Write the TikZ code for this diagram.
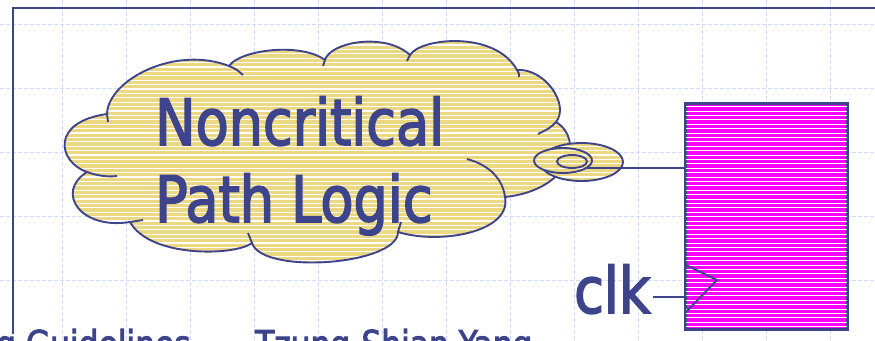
\documentclass[tikz,border=0pt]{standalone}
\usepackage{fontspec}
\newfontfamily\tfont{DejaVu Sans}[FakeStretch=0.845,FakeBold=2.5]
\definecolor{navy}{RGB}{62,68,140}
\definecolor{cloudyel}{RGB}{236,216,130}
\definecolor{gridblue}{RGB}{206,219,250}
\definecolor{regmag}{RGB}{255,0,255}
\tikzset{
  gridline/.style={gridblue,line width=1pt,dash pattern=on 4pt off 2pt},
  frameline/.style={navy,line width=1.9pt},
  outl/.style={navy,line width=1.9pt},
  stripes/.style={path picture={\foreach \i in {0,...,78}{\draw[white,line width=1.1pt] (0,{\i*4.4+1}) -- (875,{\i*4.4+1});}}},
  bigtext/.style={inner sep=0pt,anchor=base west,text=navy,font=\tfont\fontsize{64}{64}\selectfont},
  foottext/.style={inner sep=0pt,anchor=base west,text=navy,font=\tfont\fontsize{37}{37}\selectfont},
  regbox/.style={draw=navy,line width=1.9pt,fill=regmag,minimum width=161pt,minimum height=225pt,inner sep=0pt}
}
\def\cloudpath{(107,114) .. controls (108,80) and (175,45) .. (229,66)
 .. controls (240,50) and (300,42) .. (325,60)
 .. controls (330,42) and (385,32) .. (410,55)
 .. controls (420,38) and (495,30) .. (517,70)
 .. controls (545,68) and (570,105) .. (556,122)
 .. controls (585,140) and (570,190) .. (505,197)
 .. controls (512,232) and (440,245) .. (398,232)
 .. controls (398,265) and (262,275) .. (252,243)
 .. controls (235,256) and (150,258) .. (130,222)
 .. controls (80,230) and (55,192) .. (87,172)
 .. controls (58,162) and (50,122) .. (107,114) -- cycle}
\begin{document}
\begin{tikzpicture}[x=1pt,y=-1pt]
\useasboundingbox (0,0) rectangle (875,340);
\clip (0,0) rectangle (875,340);
\fill[white] (0,0) rectangle (875,340);
% grid
\foreach \x in {62,126,...,830} \draw[gridline] (\x,0) -- (\x,340);
\foreach \y in {24,88,152,216,280} \draw[gridline] (0,\y) -- (875,\y);
% frame
\draw[frameline] (13,334) -- (13,8) -- (880,8);
% cloud
\path[fill=cloudyel,stripes] \cloudpath;
\draw[outl] \cloudpath;
\draw[outl] (107,114) -- (108,122);
\draw[outl] (229,66) .. controls (236,69) .. (243,75);
\draw[outl] (325,60) -- (323,66);
\draw[outl] (410,55) -- (407,61);
\draw[outl] (517,70) .. controls (519,73) .. (519,77);
\draw[outl] (556,122) .. controls (550,128) .. (538,134);
\draw[outl] (505,197) .. controls (503,180) and (490,165) .. (467,159);
\draw[outl] (398,232) -- (401,222);
\draw[outl] (252,243) .. controls (250,238) .. (248,233);
\draw[outl] (130,222) .. controls (137,221) .. (143,220);
\draw[outl] (87,172) .. controls (98,176) and (108,177) .. (117,176);
% text
\node[bigtext] (t1) at (155,145) {Noncritical};
\node[bigtext] (t2) at (155,222) {Path Logic};
% thought bubbles
\path[fill=cloudyel,stripes] (581.5,162) ellipse [x radius=41.5,y radius=19];
\draw[outl] (581.5,162) ellipse [x radius=41.5,y radius=19];
\path[fill=cloudyel,stripes] (563,160.5) ellipse [x radius=29,y radius=12.5];
\draw[outl] (563,160.5) ellipse [x radius=29,y radius=12.5];
\draw[outl] (572,161.5) ellipse [x radius=15,y radius=6.5];
% register
\node[regbox] (reg) at (766.5,216.5) {};
\begin{scope}
\clip (reg.south west) rectangle (reg.north east);
\foreach \i in {0,...,78}{\draw[white,line width=0.9pt] (600,{\i*4.4+1}) -- (875,{\i*4.4+1});}
\end{scope}
\draw[navy,line width=1.9pt] (reg.south west) rectangle (reg.north east);
\coordinate (ck1) at (686,265);
\coordinate (ck2) at (717,280);
\coordinate (ck3) at (686,312);
\draw[outl,line join=miter] (ck1) -- (ck2) -- (ck3);
% connectors
\coordinate (btip) at (585,168);
\draw[outl] (btip) -- (btip -| reg.west);
\node[bigtext] (clk) at (574,313) {clk};
\coordinate (clkpin) at (653,297);
\draw[outl] (clkpin) -- (clkpin -| reg.west);
% footer
\node[foottext] (f1) at (-4,357) {g Guidelines};
\node[foottext] (f2) at (255,357) {Tzung-Shian Yang};
\end{tikzpicture}
\end{document}
